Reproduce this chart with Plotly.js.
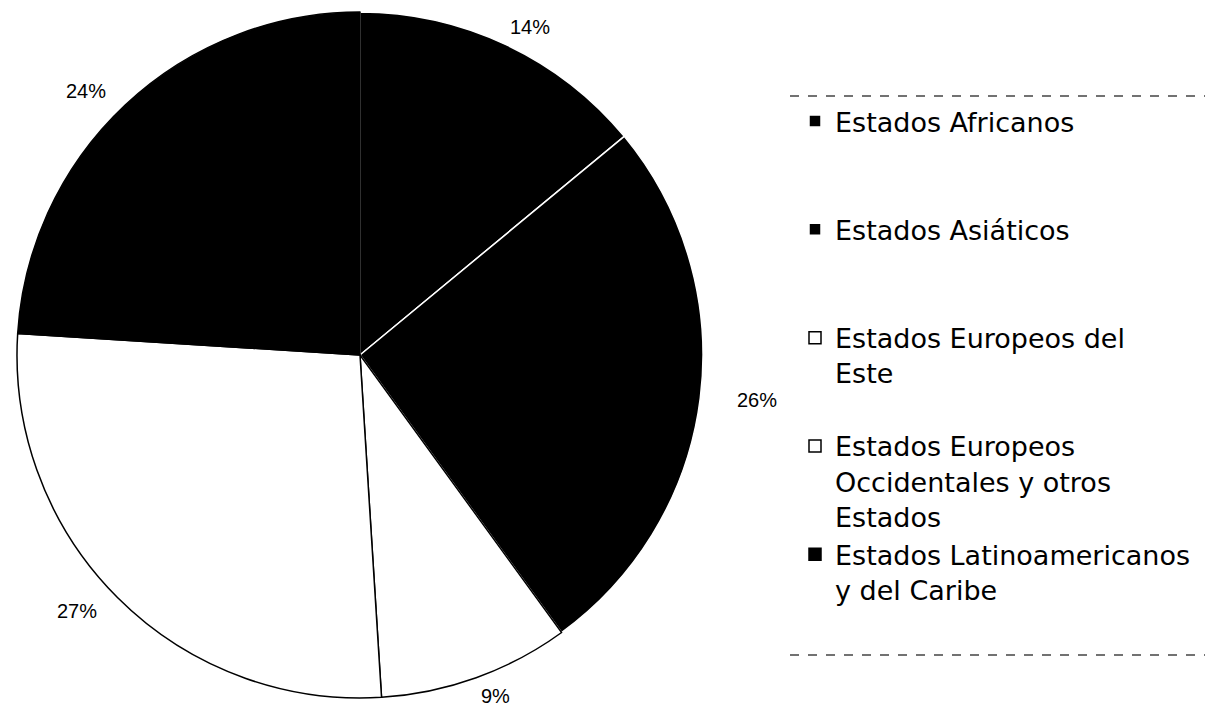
<!DOCTYPE html>
<html>
<head>
<meta charset="utf-8">
<script src="https://cdn.plot.ly/plotly-3.0.1.min.js"></script>
<style>html,body{margin:0;padding:0;background:#fff;}#chart{width:1208px;height:711px;}</style>
</head>
<body>
<div id="chart"></div>
<script>
// Data
const categories = [
  'Estados Africanos',
  'Estados Asiáticos',
  'Estados Europeos del<br>Este',
  'Estados Europeos<br>Occidentales y otros<br>Estados',
  'Estados Latinoamericanos<br>y del Caribe'
];
const values = [14, 26, 9, 27, 24];
const sliceColors = ['#000000', '#000000', '#ffffff', '#ffffff', '#000000'];
const sliceLineColors = ['#ffffff', '#ffffff', '#000000', '#000000', '#000000'];
const legendPadLines = [2, 2, 1, 0, 0];

const W = 1208, H = 711;
const cx = 360, cy = 355, R = 343;   // pie centre & radius in px
const labelRx = 400, labelRy = 362;  // label placement ellipse

const legendLabels = categories.map((c, i) => c + '<br>\u00a0'.repeat(legendPadLines[i]));

const total = values.reduce((a, b) => a + b, 0);
let cum = 0;
const annotations = values.map((v, i) => {
  const mid = (cum + v / 2) / total * 2 * Math.PI;
  cum += v;
  const px = cx + labelRx * Math.sin(mid);
  const py = cy - labelRy * Math.cos(mid);
  return {
    xref: 'paper', yref: 'paper',
    x: px / W, y: 1 - py / H,
    xanchor: 'center', yanchor: 'middle',
    text: Math.round(v / total * 100) + '%',
    showarrow: false,
    font: {family: 'Liberation Sans, Arial, sans-serif', size: 20, color: '#000'}
  };
});

const trace = {
  type: 'pie',
  labels: legendLabels,
  values: values,
  sort: false,
  direction: 'clockwise',
  rotation: 0,
  textinfo: 'none',
  hoverinfo: 'label+percent',
  marker: {colors: sliceColors, line: {color: sliceLineColors, width: 1.5}},
  domain: {x: [(cx - R) / W, (cx + R) / W], y: [1 - (cy + R) / H, 1 - (cy - R) / H]}
};

const layout = {
  width: W, height: H,
  margin: {l: 0, r: 0, t: 0, b: 0},
  paper_bgcolor: '#ffffff',
  plot_bgcolor: '#ffffff',
  showlegend: true,
  legend: {
    x: 795 / W, xanchor: 'left',
    y: 1 - 97 / H, yanchor: 'top',
    valign: 'top',
    font: {family: 'DejaVu Sans, sans-serif', size: 27, color: '#000'},
    bgcolor: 'rgba(0,0,0,0)',
    borderwidth: 0
  },
  annotations: annotations,
  shapes: [
    {type: 'line', xref: 'paper', yref: 'paper', x0: 790 / W, x1: 1205 / W, y0: 1 - 96 / H, y1: 1 - 96 / H, line: {color: '#444', width: 1.5, dash: 'dash'}},
    {type: 'line', xref: 'paper', yref: 'paper', x0: 790 / W, x1: 1205 / W, y0: 1 - 655 / H, y1: 1 - 655 / H, line: {color: '#444', width: 1.5, dash: 'dash'}}
  ]
};

Plotly.newPlot('chart', [trace], layout, {displayModeBar: false, staticPlot: true});
</script>
</body>
</html>
